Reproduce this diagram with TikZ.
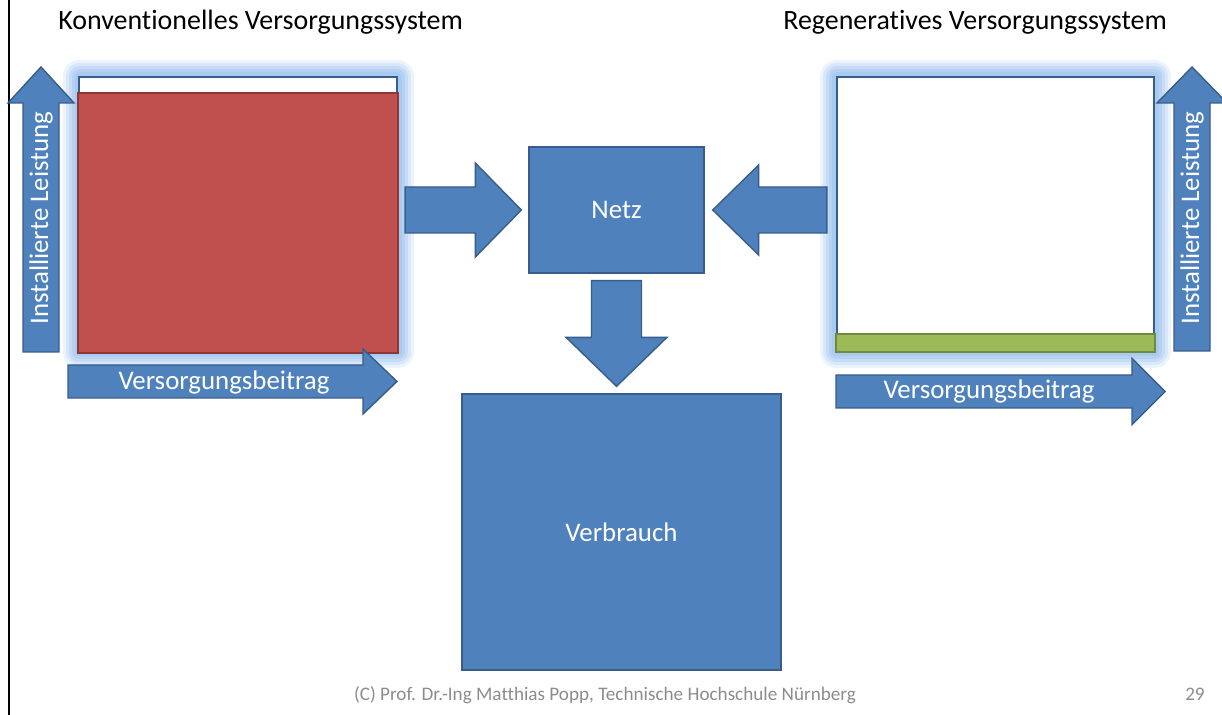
\documentclass[tikz,border=0pt]{standalone}
\usepackage{fontspec}
\setmainfont[Ligatures=NoCommon]{Carlito}
\usetikzlibrary{calc,positioning}

\definecolor{boxblue}{HTML}{4F81BD}
\definecolor{boxline}{HTML}{385D8A}
\definecolor{konvred}{HTML}{C0504D}
\definecolor{konvline}{HTML}{8C3836}
\definecolor{regengreen}{HTML}{9BBB59}
\definecolor{regenline}{HTML}{71893F}
\definecolor{glowblue}{HTML}{9DC3F0}
\definecolor{footgray}{HTML}{8C8C8C}

% block arrow: start, tip, shaft half width, head half width, head length (px)
\newcommand{\blockarrow}[5]{%
  \pgfmathsetlengthmacro\bsw{#3*0.02cm}%
  \pgfmathsetlengthmacro\bhw{#4*0.02cm}%
  \pgfmathsetlengthmacro\bhl{#5*0.02cm}%
  \coordinate (hb) at ($(#2)!\bhl!(#1)$);
  \draw[barrow] ($(#1)!\bsw!90:(#2)$) -- ($(hb)!\bsw!90:(#2)$)
    -- ($(hb)!\bhw!90:(#2)$) -- (#2) -- ($(hb)!\bhw!-90:(#2)$)
    -- ($(hb)!\bsw!-90:(#2)$) -- ($(#1)!\bsw!-90:(#2)$) -- cycle;
}

\tikzset{
  barrow/.style={fill=boxblue, draw=boxline, line width=0.8pt, line join=miter},
  sysbox/.style={draw=boxline, line width=1.3pt, fill=white, inner sep=0pt},
  flowbox/.style={draw=boxline, line width=0.8pt, fill=boxblue, inner sep=0pt,
    text=white, font=\fontsize{15.3}{18}\selectfont},
  axislbl/.style={text=white, inner sep=0pt, font=\fontsize{15.3}{18}\selectfont},
  title/.style={anchor=base west, inner sep=0pt, font=\fontsize{15.9}{19}\selectfont},
  foot/.style={anchor=base, inner sep=0pt, text=footgray, font=\fontsize{10.9}{13}\selectfont},
}

\begin{document}
\begin{tikzpicture}[x=0.02cm, y=-0.02cm]

    % -------------------------------------------------------
    % 1. Page frame
    % -------------------------------------------------------
    \fill[white] (0,0) rectangle (1222,715);
    \useasboundingbox (0,0) rectangle (1222,715);
    \draw[black, line width=1.2pt] (9,0) -- (9,715);

    \node[title] (tkonv) at (58,30) {Konventionelles Versorgungssystem};
    \node[title] (tregen) at (783,30) {Regeneratives Versorgungssystem};

    % -------------------------------------------------------
    % 2. Supply systems (with glow)
    % -------------------------------------------------------
    \path (238,214.5) coordinate (ck) (995.5,214) coordinate (cr);
    \foreach \c in {ck, cr} {
      \foreach \w/\o in {0.66/0.2, 0.54/0.24, 0.42/0.3, 0.3/0.38, 0.18/0.5} {
        \draw[glowblue, line width=\w cm, opacity=\o, line join=round]
          ($(\c)+(-159,-137.5)$) rectangle ($(\c)+(159,137.5)$);
      }
    }

    \node[sysbox, minimum width=6.36cm, minimum height=5.5cm] (konv) at (ck) {};
    \filldraw[fill=konvred, draw=konvline, line width=0.8pt]
      (konv.south west) rectangle ($(konv.north east)+(0,17)$);

    \node[sysbox, minimum width=6.34cm, minimum height=5.48cm] (regen) at (cr) {};
    \filldraw[fill=regengreen, draw=regenline, line width=0.8pt]
      (regen.south west) rectangle ($(regen.south east)+(0,-18)$);

    % -------------------------------------------------------
    % 3. Grid and consumption
    % -------------------------------------------------------
    \node[flowbox, minimum width=3.5cm, minimum height=2.52cm] (netz) at (616.5,210) {Netz};
    \node[flowbox, minimum width=6.38cm, minimum height=5.52cm] (verbrauch) at (621.5,532) {Verbrauch};

    \coordinate (k1) at ($(konv.east |- netz.west)+(7,0)$);
    \coordinate (k2) at ($(netz.west)+(-7,0)$);
    \coordinate (r1) at ($(regen.west |- netz.east)+(-9,0)$);
    \coordinate (r2) at ($(netz.east)+(8,0)$);
    \coordinate (n1) at ($(netz.south)+(0,7)$);
    \coordinate (n2) at ($(verbrauch.north -| netz.south)+(0,-7)$);

    \blockarrow{k1}{k2}{23}{47}{46}
    \blockarrow{r1}{r2}{23}{45}{46}
    \blockarrow{n1}{n2}{25}{50.5}{49}

    % -------------------------------------------------------
    % 4. Axis arrows
    % -------------------------------------------------------
    \coordinate (kl1) at (41,352);   \coordinate (kl2) at (41,67);
    \coordinate (kb1) at (68,381.5); \coordinate (kb2) at (397,381.5);
    \coordinate (rl1) at (1192,351); \coordinate (rl2) at (1192,67);
    \coordinate (rb1) at (836,391.5); \coordinate (rb2) at (1165,391.5);

    \blockarrow{kl1}{kl2}{18}{33}{36}
    \blockarrow{kb1}{kb2}{16.5}{32.5}{34}
    \blockarrow{rl1}{rl2}{18}{35}{36}
    \blockarrow{rb1}{rb2}{16.5}{33}{33}

    \node[axislbl, rotate=90] (klabel) at (41,218) {Installierte Leistung};
    \node[axislbl] (kbeitrag) at (224,382) {Versorgungsbeitrag};
    \node[axislbl, rotate=90] (rlabel) at (1192,218) {Installierte Leistung};
    \node[axislbl] (rbeitrag) at (989,391) {Versorgungsbeitrag};

    % -------------------------------------------------------
    % 5. Footer
    % -------------------------------------------------------
    \node[foot] (copy) at (605,700) {(C) Prof. Dr.-Ing Matthias Popp, Technische Hochschule Nürnberg};
    \node[foot, anchor=base east] (page) at (1205,700) {29};
\end{tikzpicture}
\end{document}
